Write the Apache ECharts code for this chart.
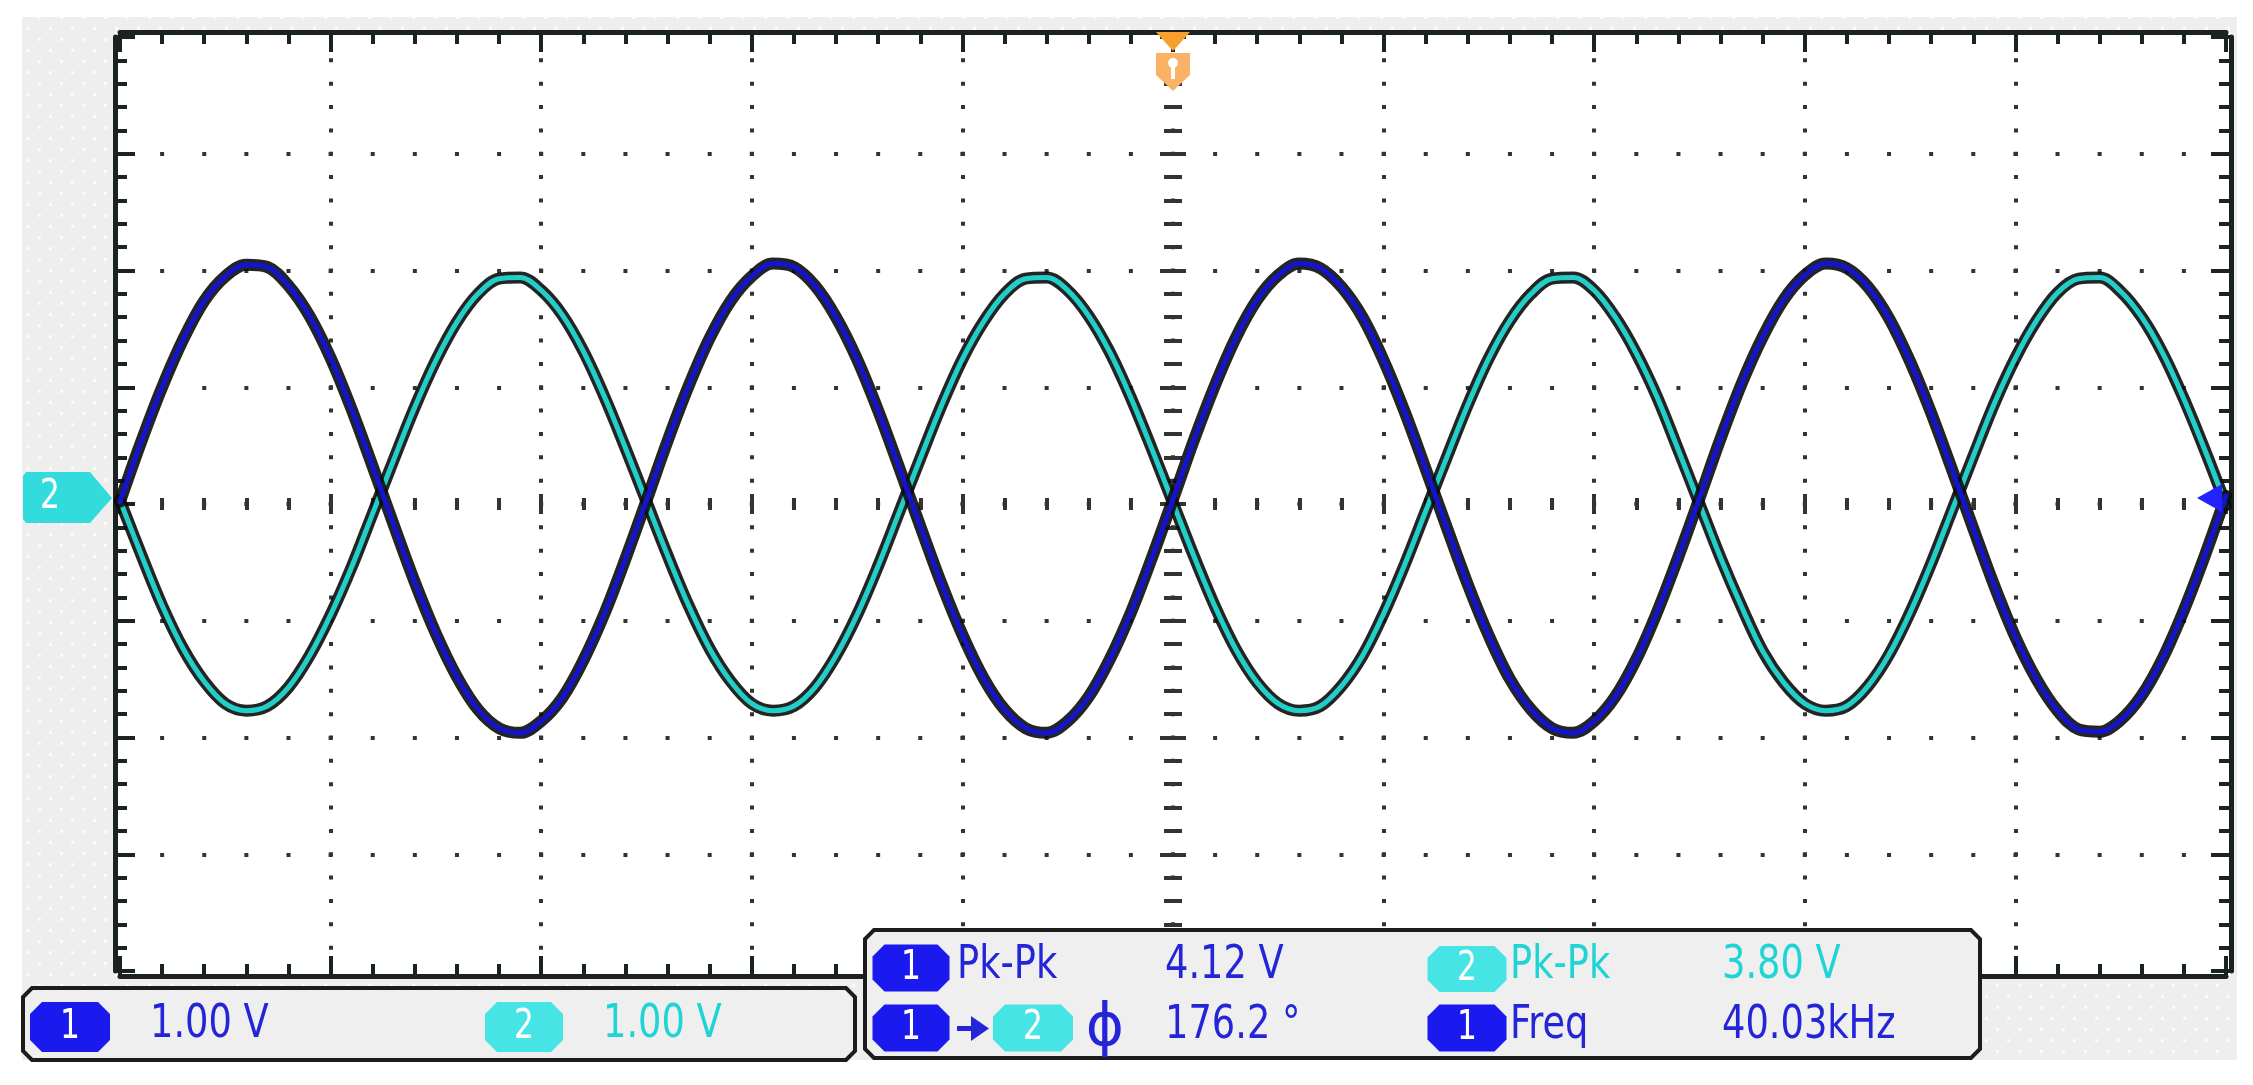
<!DOCTYPE html>
<html><head><meta charset="utf-8">
<script src="https://cdn.jsdelivr.net/npm/echarts@6/dist/echarts.min.js"></script>
<style>html,body{margin:0;padding:0;background:#fff;}#c{width:2253px;height:1085px;}</style>
</head><body><div id="c"></div>
<script>
// ---- data (10 us/div, 1.00 V/div) ----
const timeUs = [0,1,2,3,4,5,6,7,8,9,10,11,12,13,14,15,16,17,18,19,20,21,22,23,24,25,26,27,28,29,30,
  31,32,33,34,35,36,37,38,39,40,41,42,43,44,45,46,47,48,49,50,51,52,53,54,55,56,57,58,59,60,
  61,62,63,64,65,66,67,68,69,70,71,72,73,74,75,76,77,78,79,80,81,82,83,84,85,86,87,88,89,90,
  91,92,93,94,95,96,97,98,99,100];
const ch1Volts = [0.02,0.53,1.00,1.41,1.74,1.95,2.05,2.03,1.87,1.61,1.25,0.81,0.32,-0.18,-0.67,-1.11,-1.48,-1.76,-1.92,-1.96,-1.86,
  -1.66,-1.34,-0.94,-0.47,0.03,0.54,1.01,1.42,1.74,1.95,2.06,2.03,1.87,1.60,1.24,0.80,0.31,-0.19,-0.68,-1.12,
  -1.49,-1.76,-1.92,-1.96,-1.86,-1.65,-1.33,-0.93,-0.46,0.04,0.55,1.02,1.43,1.75,1.96,2.06,2.02,1.86,1.60,1.23,
  0.79,0.30,-0.20,-0.69,-1.13,-1.50,-1.76,-1.92,-1.96,-1.86,-1.65,-1.33,-0.92,-0.45,0.05,0.56,1.03,1.43,1.75,1.96,
  2.06,2.02,1.86,1.59,1.22,0.78,0.29,-0.21,-0.70,-1.14,-1.50,-1.77,-1.93,-1.95,-1.85,-1.64,-1.32,-0.91,-0.44,0.07];
const ch2Volts = [0.03,-0.43,-0.87,-1.24,-1.52,-1.71,-1.77,-1.73,-1.57,-1.30,-0.95,-0.54,-0.08,0.38,0.83,1.23,1.56,1.80,1.93,1.94,1.83,
  1.62,1.31,0.92,0.48,0.02,-0.44,-0.87,-1.24,-1.52,-1.71,-1.77,-1.73,-1.57,-1.30,-0.95,-0.53,-0.07,0.39,0.84,1.24,
  1.56,1.80,1.93,1.94,1.83,1.61,1.30,0.91,0.47,0.01,-0.45,-0.88,-1.25,-1.53,-1.71,-1.77,-1.73,-1.56,-1.30,-0.94,
  -0.52,-0.06,0.40,0.85,1.25,1.57,1.80,1.93,1.94,1.83,1.60,1.29,0.91,0.46,0.00,-0.46,-0.88,-1.26,-1.53,-1.71,
  -1.77,-1.73,-1.56,-1.29,-0.93,-0.51,-0.05,0.41,0.86,1.25,1.57,1.81,1.93,1.94,1.82,1.60,1.29,0.90,0.46,-0.01];
const scaleLabels = ['1.00 V', '1.00 V'];
const measNames = ['Pk-Pk', 'Pk-Pk', '\u03D5', 'Freq'];
const measValues = ['4.12 V', '3.80 V', '176.2 \u00B0', '40.03kHz'];

// ---- layout ----
const G = {left: 120, top: 37, width: 2106, height: 934};
const CX = G.left + G.width / 2, CY = G.top + G.height / 2;
const INK = '#1b2222';
const BLUE = '#1a1aee', BLUE_TXT = '#2424d8', CYAN = '#46e4e4', CYAN_TXT = '#1fd4d4';
const FONT = '"Liberation Sans Narrow","DejaVu Sans Condensed","Liberation Sans",sans-serif';

function borderAxis(dim, pos) {
  return {
    type: 'value', position: pos, offset: 5,
    min: dim === 'x' ? 0 : -4, max: dim === 'x' ? 100 : 4, interval: dim === 'x' ? 10 : 1,
    axisLine: {show: true, onZero: false, lineStyle: {color: INK, width: 5}},
    axisTick: {show: true, inside: true, length: 20, lineStyle: {color: INK, width: 4}},
    minorTick: {show: true, splitNumber: 5, length: 12, lineStyle: {color: INK, width: 4}},
    axisLabel: {show: false}, splitLine: {show: false}, axisPointer: {show: false}
  };
}
function centerAxis(dim, pos, off, major, minor) {
  return {
    type: 'value', position: pos, offset: off,
    min: dim === 'x' ? 0 : -4, max: dim === 'x' ? 100 : 4, interval: dim === 'x' ? 10 : 1,
    axisLine: {show: false, onZero: false},
    axisTick: {show: true, inside: false, length: major, lineStyle: {color: '#333', width: 4}},
    minorTick: {show: true, splitNumber: 5, length: minor, lineStyle: {color: '#333', width: 4}},
    axisLabel: {show: false}, splitLine: {show: false}
  };
}
const xMain = borderAxis('x', 'bottom');
xMain.splitLine = {show: true, showMinLine: false, showMaxLine: false,
  lineStyle: {color: '#333', width: 4, type: [4, G.height / 40 - 4], dashOffset: 2}};
const yMain = borderAxis('y', 'left');
yMain.splitLine = {show: true, showMinLine: false, showMaxLine: false,
  lineStyle: {color: '#333', width: 4, type: [4, G.width / 50 - 4], dashOffset: 2}};

// pattern for the grey bezel
const pc = document.createElement('canvas'); pc.width = 22; pc.height = 22;
const pctx = pc.getContext('2d');
pctx.fillStyle = '#eeeeee'; pctx.fillRect(0, 0, 22, 22);
pctx.fillStyle = '#fbfbfb'; pctx.fillRect(5, 5, 3, 3); pctx.fillRect(16, 16, 3, 3);

function oct(x1, y1, x2, y2, c) {
  return [[x1 + c, y1], [x2 - c, y1], [x2, y1 + c], [x2, y2 - c], [x2 - c, y2], [x1 + c, y2], [x1, y2 - c], [x1, y1 + c]];
}
function badge(cx, cy, w, h, color, digit) {
  return [
    {type: 'polygon', z: 110, shape: {points: oct(cx - w / 2, cy - h / 2, cx + w / 2, cy + h / 2, 12)}, style: {fill: color}},
    {type: 'text', z: 111, x: cx, y: cy + 1, scaleX: 0.87, style: {text: digit, x: 0, y: 0, fill: '#ffffff', font: '40px ' + FONT, align: 'center', verticalAlign: 'middle'}}
  ];
}
function txt(s, x, y, color) {
  return {type: 'text', z: 111, x: x, y: y, scaleX: 0.87,
    style: {text: s, x: 0, y: 0, fill: color, font: '47px ' + FONT, align: 'left', verticalAlign: 'middle'}};
}

const graphics = [
  {type: 'rect', z: -20, silent: true, shape: {x: 22, y: 17, width: 2215, height: 1043}, style: {fill: {image: pc, repeat: 'repeat'}}},
  {type: 'rect', z: -10, silent: true, shape: {x: G.left - 5, y: G.top - 5, width: G.width + 10, height: G.height + 10}, style: {fill: '#ffffff'}},
  // trigger marker
  {type: 'polygon', z: 120, shape: {points: [[CX - 17, G.top - 5], [CX + 17, G.top - 5], [CX, G.top + 14]]}, style: {fill: '#f7a02e'}},
  {type: 'polygon', z: 120, shape: {points: [[CX - 17, G.top + 16], [CX + 17, G.top + 16], [CX + 17, G.top + 38], [CX, G.top + 54], [CX - 17, G.top + 38]]}, style: {fill: '#f9b266'}},
  {type: 'circle', z: 121, shape: {cx: CX, cy: G.top + 26, r: 5}, style: {fill: '#ffffff'}},
  {type: 'rect', z: 121, shape: {x: CX - 2, y: G.top + 26, width: 4, height: 16}, style: {fill: '#ffffff'}},
  // channel 2 ground marker (left)
  {type: 'polygon', z: 120, shape: {points: [[26, CY - 32], [90, CY - 32], [112, CY - 6], [90, CY + 19], [26, CY + 19], [23, CY + 15], [23, CY - 28]]}, style: {fill: '#33dcdc'}},
  {type: 'text', z: 121, x: 50, y: CY - 6, scaleX: 0.87, style: {text: '2', x: 0, y: 0, fill: '#ffffff', font: '40px ' + FONT, align: 'center', verticalAlign: 'middle'}},
  // channel 1 ground marker (right)
  {type: 'polygon', z: 120, shape: {points: [[G.left + G.width - 29, CY - 6], [G.left + G.width - 4, CY - 20], [G.left + G.width - 4, CY + 8]]}, style: {fill: '#2323ff'}},
  // bottom-left scale box
  {type: 'polygon', z: 100, shape: {points: oct(23, 988, 855, 1060, 9)}, style: {fill: '#efefef', stroke: '#1c1c1c', lineWidth: 4}},
  // measurement box
  {type: 'polygon', z: 100, shape: {points: oct(865, 930, 1980, 1058, 9)}, style: {fill: '#efefef', stroke: '#1c1c1c', lineWidth: 4}}
];
graphics.push(...badge(70, 1027, 80, 50, BLUE, '1'));
graphics.push(txt(scaleLabels[0], 150, 1025, BLUE_TXT));
graphics.push(...badge(524, 1027, 78, 50, CYAN, '2'));
graphics.push(txt(scaleLabels[1], 603, 1025, CYAN_TXT));
// row 1
graphics.push(...badge(911, 968, 77, 47, BLUE, '1'));
graphics.push(txt(measNames[0], 957, 966, BLUE_TXT));
graphics.push(txt(measValues[0], 1165, 966, BLUE_TXT));
graphics.push(...badge(1467, 969, 79, 46, CYAN, '2'));
graphics.push(txt(measNames[1], 1510, 966, CYAN_TXT));
graphics.push(txt(measValues[1], 1722, 966, CYAN_TXT));
// row 2
graphics.push(...badge(911, 1028, 77, 47, BLUE, '1'));
graphics.push({type: 'rect', z: 111, shape: {x: 957, y: 1026, width: 18, height: 5}, style: {fill: BLUE_TXT}});
graphics.push({type: 'polygon', z: 111, shape: {points: [[971, 1016], [989, 1028.5], [971, 1041]]}, style: {fill: BLUE_TXT}});
graphics.push(...badge(1033, 1028, 80, 47, CYAN, '2'));
graphics.push({type: 'text', z: 111, style: {text: measNames[2], x: 1105, y: 1030, fill: BLUE_TXT, font: '58px "DejaVu Sans",sans-serif', align: 'center', verticalAlign: 'middle'}});
graphics.push(txt(measValues[2], 1165, 1026, BLUE_TXT));
graphics.push(...badge(1467, 1028, 79, 47, BLUE, '1'));
graphics.push(txt(measNames[3], 1510, 1026, BLUE_TXT));
graphics.push(txt(measValues[3], 1722, 1026, BLUE_TXT));

const ch1 = timeUs.map((t, i) => [t, ch1Volts[i]]);
const ch2 = timeUs.map((t, i) => [t, ch2Volts[i]]);
function trace(data, color, width, z, op) {
  return {type: 'line', data: data, xAxisIndex: 0, yAxisIndex: 0, smooth: 0.35, symbol: 'none',
    silent: true, z: z, lineStyle: {color: color, width: width, opacity: op == null ? 1 : op, join: 'round', cap: 'round'}};
}

const chart = echarts.init(document.getElementById('c'), null, {renderer: 'canvas'});
chart.setOption({
  animation: false,
  backgroundColor: '#ffffff',
  grid: {left: G.left, top: G.top, width: G.width, height: G.height, show: false, containLabel: false, outerBoundsMode: 'none'},
  xAxis: [
    xMain,
    borderAxis('x', 'top'),
    centerAxis('x', 'bottom', -G.height / 2, 10, 6),
    centerAxis('x', 'top', -G.height / 2, 10, 6)
  ],
  yAxis: [
    yMain,
    borderAxis('y', 'right'),
    centerAxis('y', 'left', -G.width / 2, 13, 9),
    centerAxis('y', 'right', -G.width / 2, 13, 9)
  ],
  series: [
    trace(ch2, '#0c0c0c', 12, 3, 0.9),
    trace(ch2, '#22cfc8', 5, 4),
    trace(ch1, '#0c0c0c', 12, 5, 0.9),
    trace(ch1, '#1414cc', 5, 6)
  ],
  graphic: graphics
});
</script>
</body></html>
